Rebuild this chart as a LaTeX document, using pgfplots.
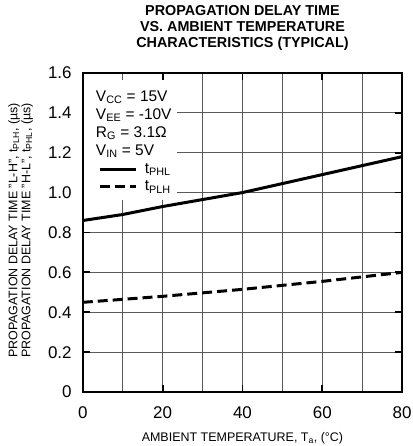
\documentclass[border=0pt]{standalone}
\usepackage{fontspec}
\setmainfont{Liberation Sans}
\usepackage{pgfplots}
\pgfplotsset{compat=1.18}

\pgfplotstableread{
x    phl
0    0.86
10   0.89
20   0.93
30   0.965
40   1.00
50   1.045
60   1.09
70   1.135
80   1.18
}\phl

\pgfplotstableread{
x    plh
0    0.45
20   0.48
40   0.515
60   0.555
80   0.60
}\plh

\begin{document}
\begin{tikzpicture}
\begin{axis}[
    scale only axis,
    width=320pt, height=320pt,
    xmin=0, xmax=80, ymin=0, ymax=1.6,
    xtick={0,20,...,80},
    minor xtick={10,30,50,70},
    ytick={0,0.2,...,1.6},
    yticklabels={0,0.2,0.4,0.6,0.8,1.0,1.2,1.4,1.6},
    grid=both,
    major grid style={line width=0.9pt, black!65},
    minor grid style={line width=0.9pt, black!65},
    minor tick length=0pt,
    major tick length=7pt,
    tick align=inside,
    tick style={line width=1.8pt, black},
    axis line style={line width=2.2pt},
    /pgf/number format/assume math mode=true,
    tick label style={font=\fontsize{17}{18}\selectfont, inner sep=0pt},
    xticklabel style={anchor=north, yshift=-14pt},
    yticklabel style={anchor=east, xshift=-11pt},
    xlabel={AMBIENT TEMPERATURE, T\textsubscript{a}, (°C)},
    xlabel style={font=\fontsize{12.5}{13}\selectfont, at={(axis description cs:0.5,0)},
        anchor=north, yshift=-40pt, inner sep=0pt},
    ylabel={PROPAGATION DELAY TIME "L-H", t\textsubscript{PLH}, (µs)\\PROPAGATION DELAY TIME "H-L", t\textsubscript{PHL}, (µs)},
    ylabel style={font=\fontsize{12.5}{13}\selectfont, align=center,
        at={(axis description cs:-0.195,0.506)}, anchor=center, inner sep=0pt},
    title={PROPAGATION DELAY TIME\\VS. AMBIENT TEMPERATURE\\CHARACTERISTICS (TYPICAL)},
    title style={font=\bfseries\fontsize{14.4}{16}\selectfont, align=center,
        at={(axis description cs:0.5,1)}, anchor=south, yshift=16pt, inner sep=0pt},
    legend style={at={(axis cs:4,1.1475)}, anchor=north west, draw=none, fill=none,
        font=\fontsize{15.5}{18}\selectfont, inner sep=0pt, row sep=6pt, column sep=7pt,
        nodes={inner sep=0pt}},
    legend cell align=left,
    legend image code/.code={\draw[#1] (0pt,0pt) -- (36pt,0pt);},
]
\fill[white] (axis cs:0.35,1.5625) rectangle (axis cs:23.5,0.9625);
\addplot[black, line width=3pt] table[x=x, y=phl] {\phl};
\addlegendentry{t\textsubscript{PHL}}
\addplot[black, line width=3pt, dash pattern=on 10pt off 5pt] table[x=x, y=plh] {\plh};
\addlegendentry{t\textsubscript{PLH}}
\node[anchor=north west, align=left, inner sep=0pt,
      font=\fontsize{15.5}{18}\selectfont]
  at (axis cs:3.25,1.5125)
  {V\textsubscript{CC} = 15V\\V\textsubscript{EE} = -10V\\R\textsubscript{G} = 3.1Ω\\V\textsubscript{IN} = 5V};
\end{axis}
\pgfresetboundingbox
\path ([shift={(-83pt,-54pt)}]current axis.south west) rectangle ([shift={(10pt,73pt)}]current axis.north east);
\end{tikzpicture}
\end{document}
